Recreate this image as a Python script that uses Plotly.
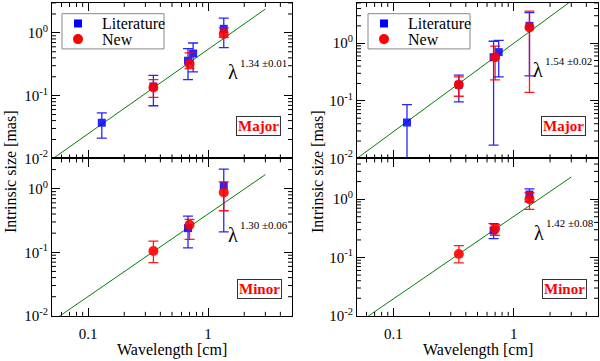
import math
import plotly.graph_objects as go
from plotly.subplots import make_subplots

# ---- data ----
lit_wl = [0.13, 0.35, 0.68, 0.75, 1.35]
new_wl = [0.35, 0.70, 1.35]
lit_wl_minor = [0.68, 1.35]

# left column
major_lit_L = [0.037, 0.14, 0.36, 0.47, 1.16]
major_lit_L_hi = [0.053, 0.21, 0.56, 0.69, 1.72]
major_lit_L_lo = [0.021, 0.069, 0.18, 0.24, 0.58]
major_new_L = [0.135, 0.32, 0.96]
major_new_L_hi = [0.18, 0.48, 1.2]
major_new_L_lo = [0.094, 0.27, 0.85]

minor_lit_L = [0.24, 1.11]
minor_lit_L_hi = [0.37, 2.04]
minor_lit_L_lo = [0.117, 0.21]
minor_new_L = [0.105, 0.27, 0.87]
minor_new_L_hi = [0.15, 0.33, 1.28]
minor_new_L_lo = [0.069, 0.16, 0.45]

# right column
major_lit_R = [0.042, 0.19, 0.57, 0.70, 2.0]
major_lit_R_hi = [0.086, 0.28, 1.08, 1.12, 3.4]
major_lit_R_lo = [0.005, 0.096, 0.017, 0.26, 0.27]
major_new_R = [0.19, 0.57, 1.87]
major_new_R_hi = [0.26, 0.89, 3.6]
major_new_R_lo = [0.12, 0.23, 0.14]

minor_lit_R = [0.29, 1.2]
minor_lit_R_hi = [0.38, 1.5]
minor_lit_R_lo = [0.21, 0.9]
minor_new_R = [0.115, 0.31, 1.0]
minor_new_R_hi = [0.16, 0.37, 1.3]
minor_new_R_lo = [0.081, 0.24, 0.67]

# power-law fits (end points)
fit_x = [0.05, 3.0]
fit_major_L = [0.0097, 2.4]
fit_minor_L = [0.0082, 1.67]
fit_major_R = [0.01, 5.4]
fit_minor_R = [0.0073, 2.4]
fit_labels = ["1.34 \u00b10.01", "1.54 \u00b10.02", "1.30 \u00b10.06", "1.42 \u00b10.08"]

legend_names = ["Literature", "New"]

FONT = "Liberation Serif, Times New Roman, DejaVu Serif, serif"
BLUE = "#0000ff"
RED = "#ff0000"

fig = make_subplots(rows=2, cols=2)


def points(x, y, hi, lo, color, symbol, size, name, row, col):
    fig.add_trace(go.Scatter(
        x=x, y=y, mode="markers", name=name, showlegend=False,
        marker=dict(color=color, symbol=symbol, size=size),
        error_y=dict(type="data", symmetric=False,
                     array=[h - v for h, v in zip(hi, y)],
                     arrayminus=[v - l for v, l in zip(y, lo)],
                     color=color, thickness=1.3, width=5),
        opacity=0.85 if color == BLUE else 0.9,
    ), row=row, col=col)


def fit(y, row, col):
    fig.add_trace(go.Scatter(x=fit_x, y=y, mode="lines", showlegend=False,
                             line=dict(color="#008000", width=1)), row=row, col=col)


fit(fit_major_L, 1, 1)
fit(fit_minor_L, 2, 1)
fit(fit_major_R, 1, 2)
fit(fit_minor_R, 2, 2)

points(lit_wl, major_lit_L, major_lit_L_hi, major_lit_L_lo, BLUE, "square", 8, "Literature", 1, 1)
points(new_wl, major_new_L, major_new_L_hi, major_new_L_lo, RED, "circle", 10, "New", 1, 1)
points(lit_wl_minor, minor_lit_L, minor_lit_L_hi, minor_lit_L_lo, BLUE, "square", 8, "Literature", 2, 1)
points(new_wl, minor_new_L, minor_new_L_hi, minor_new_L_lo, RED, "circle", 10, "New", 2, 1)

points(lit_wl, major_lit_R, major_lit_R_hi, major_lit_R_lo, BLUE, "square", 8, "Literature", 1, 2)
points(new_wl, major_new_R, major_new_R_hi, major_new_R_lo, RED, "circle", 10, "New", 1, 2)
points(lit_wl_minor, minor_lit_R, minor_lit_R_hi, minor_lit_R_lo, BLUE, "square", 8, "Literature", 2, 2)
points(new_wl, minor_new_R, minor_new_R_hi, minor_new_R_lo, RED, "circle", 10, "New", 2, 2)

# ---- axes ----
W, H = 600, 361
xdom = {1: [52 / W, 292 / W], 2: [357 / W, 598 / W]}
ydom = {1: [1 - 162 / H, 1 - 3 / H], 2: [1 - 323 / H, 1 - 162 / H]}
ytop = {1: math.log10(3), 2: math.log10(5)}

xminor = [0.06, 0.07, 0.08, 0.09, 0.2, 0.3, 0.4, 0.5, 0.6, 0.7, 0.8, 0.9, 2, 3, 4]
yminor = [m * 10 ** e for e in (-2, -1, 0) for m in range(2, 10)]

axis_common = dict(type="log", showline=True, linecolor="black", linewidth=1.2,
                   mirror="allticks", ticks="inside", ticklen=8, tickwidth=1, tickcolor="black",
                   showgrid=False, zeroline=False,
                   tickfont=dict(family=FONT, size=15, color="black"))

shapes = []
n = 0
for r in (1, 2):
    for c in (1, 2):
        n += 1
        xa = "x" if n == 1 else "x%d" % n
        ya = "y" if n == 1 else "y%d" % n
        fig.update_xaxes(axis_common, range=[math.log10(0.05), math.log10(5)], domain=xdom[c],
                         tickmode="array", tickvals=[0.1, 1], ticktext=["0.1", "1"],
                         ticklabelstandoff=4, showticklabels=(r == 2), row=r, col=c)
        fig.update_yaxes(axis_common, range=[-2, ytop[c]], domain=ydom[r],
                         tickmode="array", tickvals=[0.01, 0.1, 1],
                         ticktext=["10<sup>-2</sup>", "10<sup>-1</sup>", "10<sup>0</sup>"],
                         row=r, col=c)
        # minor ticks, inside on all four sides
        tick = dict(type="line", line=dict(color="black", width=1), layer="above")
        for v in xminor:
            for anchor, d in ((0, 4), (1, -4)):
                shapes.append(dict(tick, xref=xa, x0=v, x1=v, yref=ya + " domain",
                                   ysizemode="pixel", yanchor=anchor, y0=0, y1=d))
        for v in yminor:
            if math.log10(v) > ytop[c]:
                continue
            for anchor, d in ((0, 4), (1, -4)):
                shapes.append(dict(tick, yref=ya, y0=v, y1=v, xref=xa + " domain",
                                   xsizemode="pixel", xanchor=anchor, x0=0, x1=d))

# ---- text ----
ann = []
for cx, ylabel_x in ((172, 10), (478, 317)):
    ann.append(dict(x=cx / W, y=1 - 358 / H, text="Wavelength [cm]"))
    ann.append(dict(x=ylabel_x / W, y=1 - 176 / H, text="Intrinsic size [mas]", textangle=-90))

lam_pos = [(233, 74), (538, 72), (233, 240), (539, 238)]
for (px, py), lab in zip(lam_pos, fit_labels):
    ann.append(dict(x=px / W, y=1 - py / H, text="\u03bb", font=dict(family=FONT, size=20, color="black")))
    ann.append(dict(x=(px + 5) / W, y=1 - (py - 10) / H, text=lab, xanchor="left",
                    font=dict(family=FONT, size=11, color="black")))

box_pos = [(258, 129, "Major"), (563, 129, "Major"), (259, 296, "Minor"), (564, 296, "Minor")]
for px, py, t in box_pos:
    ann.append(dict(x=px / W, y=1 - py / H, text="<b>%s</b>" % t,
                    font=dict(family=FONT, size=15, color=RED),
                    bgcolor="white", bordercolor="#333333", borderwidth=1, borderpad=1))

# legends (one per top panel), drawn as a framed box with symbol + text
for lx in (62, 368):
    shapes.append(dict(type="rect", xref="paper", yref="paper",
                       x0=lx / W, x1=(lx + 102) / W, y0=1 - 50 / H, y1=1 - 14 / H,
                       line=dict(color="#888888", width=1), fillcolor="white", layer="above"))
    for (name, color, kind, half, ly) in ((legend_names[0], BLUE, "rect", 4, 24),
                                          (legend_names[1], RED, "circle", 5, 40)):
        shapes.append(dict(type=kind, xref="paper", yref="paper",
                           xsizemode="pixel", ysizemode="pixel",
                           xanchor=(lx + 16) / W, yanchor=1 - ly / H,
                           x0=-half, x1=half, y0=-half, y1=half,
                           line=dict(width=0), fillcolor=color, layer="above"))
        ann.append(dict(x=(lx + 38) / W, y=1 - ly / H, text=name, xanchor="left",
                        font=dict(family=FONT, size=16, color="black")))

for a in ann:
    a.setdefault("font", dict(family=FONT, size=16, color="black"))
    a.setdefault("xanchor", "center")
    a.update(xref="paper", yref="paper", showarrow=False, yanchor="middle")

fig.update_layout(
    width=W, height=H, margin=dict(l=0, r=0, t=0, b=0),
    paper_bgcolor="white", plot_bgcolor="white",
    font=dict(family=FONT, color="black"),
    annotations=ann, shapes=shapes, showlegend=False,
)

fig.write_html("out.html", config={"displayModeBar": False},
               post_script="document.body.style.margin='0';")
